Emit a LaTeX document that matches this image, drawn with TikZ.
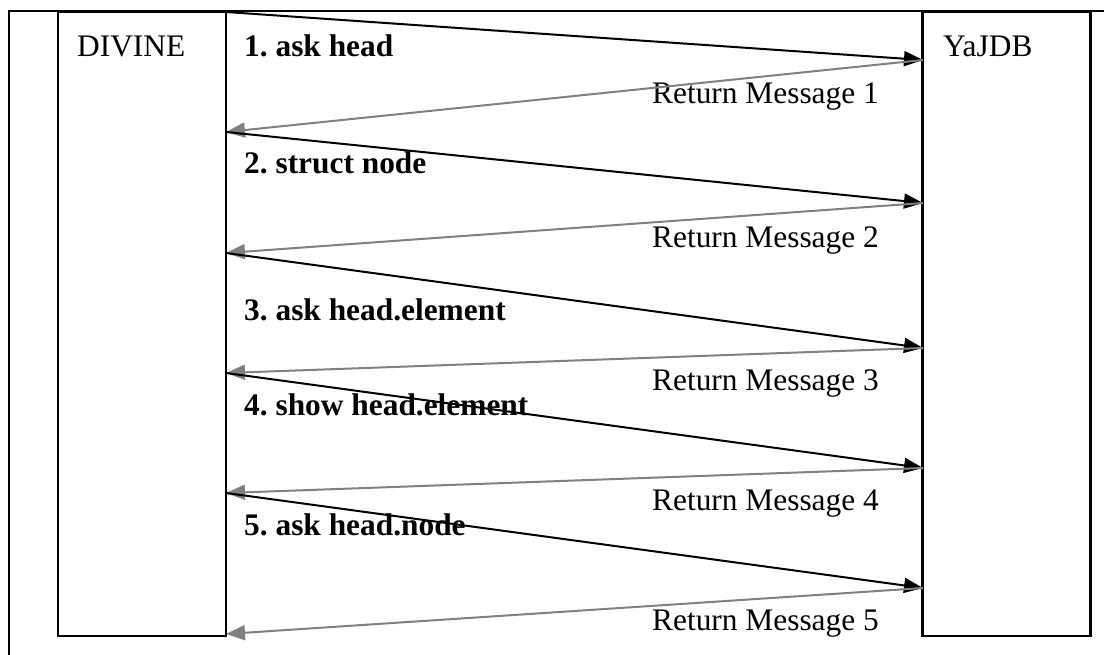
\documentclass[tikz,border=0pt]{standalone}
\usepackage{fontspec}
\setmainfont{Liberation Serif}
\usetikzlibrary{arrows.meta}
\frenchspacing

\begin{document}
\begin{tikzpicture}[x=1bp,y=-1bp,line width=2.4bp,
  box/.style={draw,minimum width=168bp,minimum height=624bp,inner sep=0pt},
  lbl/.style={anchor=base west,inner sep=0pt,font=\fontsize{31.5}{36}\selectfont},
  msg/.style={lbl,font=\fontsize{31.5}{36}\selectfont\bfseries},
  call/.style={line width=2bp,-{Triangle[length=19bp,width=15bp]}},
  reply/.style={call,draw=gray}]
\useasboundingbox(0,0)rectangle(1104,655);
\draw(9,655)--(9,11)--(1104,11);
\node[box](divine)at(142,324){};
\node[box](yajdb)at(1006.5,324){};
\node[lbl](divinelbl)at(76,57){DIVINE};
\node[lbl](yajdblbl)at(942,57){YaJDB};
% message labels
\node[msg](m1)at(243,57){1. ask head};
\node[msg](m2)at(243,174){2. struct node};
\node[msg](m3)at(243,320){3. ask head.element};
\node[msg](m4)at(243,415){4. show head.element};
\node[msg](m5)at(243,535){5. ask head.node};
\foreach \i/\y in {1/104,2/247,3/390,4/510,5/630}
  \node[lbl](r\i)at(651,\y){Return Message \i};
% end points on the two boxes
\foreach \i/\y in {0/12,1/132,2/253,3/373,4/493,5/634}
  \coordinate(d\i)at(226,\y);
\foreach \i/\y in {1/60,2/203,3/348,4/468,5/588}
  \coordinate(y\i)at(923,\y);
\foreach \i [count=\j from 0] in {1,...,5}{
  \draw[call](d\j)--(y\i);
  \draw[reply](y\i)--(d\i);}
\end{tikzpicture}
\end{document}
